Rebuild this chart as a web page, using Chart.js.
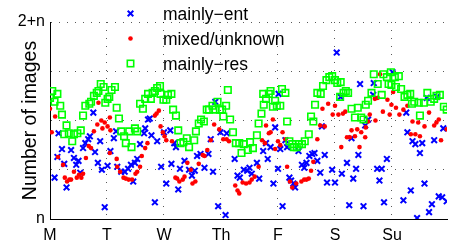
<!DOCTYPE html>
<html><head><meta charset="utf-8">
<script src="https://cdn.jsdelivr.net/npm/chart.js@4.4.1/dist/chart.umd.min.js"></script>
<style>html,body{margin:0;padding:0;background:#fff;overflow:hidden}#wrap{width:463px;height:249px;position:relative}</style>
</head><body><div id="wrap"><canvas id="c" width="463" height="249"></canvas></div>
<script>
const dayTicks = [0, 1, 2, 3, 4, 5, 6];
const dayLabels = ['M', 'T', 'W', 'Th', 'F', 'S', 'Su'];
const yTicks = [0, 0.5, 1, 1.5, 2];
const yTickLabels = ['n', '', '', '', '2+n'];
const seriesNames = ['mainly\u2212ent', 'mixed/unknown', 'mainly\u2212res'];
const yTitle = 'Number of images';

const entX = [0.08,0.13,0.15,0.21,0.25,0.29,0.37,0.42,0.46,0.50,0.53,0.58,0.62,0.67,0.70,0.76,0.79,0.84,0.88,0.91,0.96,1.01,1.06,1.12,1.16,1.18,1.25,1.31,1.37,1.42,1.46,1.49,1.53,1.58,1.65,1.67,1.72,1.75,1.78,1.84,1.88,1.95,2.00,2.04,2.11,2.13,2.18,2.21,2.25,2.28,2.36,2.44,2.49,2.54,2.58,2.64,2.71,2.78,2.82,2.86,2.90,2.95,2.99,3.08,3.10,3.24,3.29,3.33,3.40,3.46,3.50,3.54,3.63,3.67,3.74,3.79,3.82,3.87,3.92,3.95,4.00,4.01,4.04,4.08,4.13,4.16,4.20,4.23,4.27,4.30,4.36,4.42,4.46,4.50,4.55,4.60,4.64,4.69,4.74,4.77,4.82,4.86,4.95,5.00,5.03,5.10,5.12,5.21,5.25,5.29,5.32,5.37,5.41,5.44,5.50,5.53,5.58,5.67,5.68,5.74,5.78,5.82,5.86,5.91,6.01,6.20,6.25,6.27,6.33,6.36,6.41,6.44,6.49,6.53,6.57,6.61,6.65,6.70,6.74,6.79,6.82,6.88,6.90,6.96];
const entY = [0.42,0.63,0.87,0.71,0.56,0.32,0.70,0.62,0.55,0.59,0.47,0.72,0.77,0.81,0.84,1.08,0.68,0.57,0.79,0.50,0.12,0.54,0.69,0.82,0.89,0.53,0.48,0.48,0.51,0.55,0.38,0.57,0.61,0.76,0.87,0.92,1.01,1.02,0.85,0.17,0.79,0.53,0.88,0.36,0.90,0.56,0.77,0.73,0.30,0.51,0.59,0.50,0.44,0.49,0.64,0.66,0.52,0.66,0.81,0.48,1.19,0.13,0.88,0.04,0.87,0.61,0.44,0.42,0.50,0.49,0.52,0.46,0.57,0.41,0.69,0.77,0.61,0.73,0.36,0.93,0.51,1.27,0.71,0.13,0.80,0.73,0.42,0.39,0.36,0.32,0.69,0.55,0.52,0.57,0.64,0.66,0.67,0.59,0.47,0.94,0.65,0.37,0.50,0.37,1.69,1.24,0.46,0.57,0.14,0.82,0.41,0.51,0.65,1.37,0.13,0.95,1.01,1.26,1.38,0.51,0.39,0.51,0.17,0.61,1.49,0.19,1.08,0.88,0.29,0.79,0.76,0.01,0.67,0.77,0.36,1.23,0.07,0.15,0.80,1.24,0.23,0.22,0.92,0.18];

const mixX = [0.00,0.03,0.09,0.14,0.23,0.26,0.30,0.34,0.37,0.42,0.47,0.51,0.55,0.58,0.63,0.68,0.72,0.77,0.83,0.85,0.90,0.92,0.96,1.01,1.05,1.06,1.05,1.17,1.18,1.23,1.29,1.33,1.38,1.44,1.50,1.53,1.58,1.61,1.67,1.71,1.84,1.87,1.91,1.94,1.98,2.01,2.04,2.14,2.20,2.23,2.27,2.33,2.36,2.41,2.47,2.50,2.55,2.61,2.68,2.71,2.76,2.82,2.88,2.97,3.04,3.10,3.14,3.25,3.29,3.32,3.38,3.44,3.50,3.54,3.59,3.66,3.72,3.77,3.79,3.84,3.87,3.91,3.95,4.00,4.04,4.08,4.13,4.16,4.21,4.25,4.32,4.41,4.46,4.50,4.54,4.58,4.62,4.69,4.74,4.78,4.82,4.88,4.96,5.00,5.06,5.11,5.14,5.18,5.21,5.26,5.29,5.35,5.39,5.43,5.46,5.53,5.54,5.58,5.61,5.70,5.71,5.75,5.79,5.84,5.92,5.96,5.99,6.02,6.07,6.13,6.20,6.27,6.33,6.36,6.41,6.46,6.49,6.57,6.65,6.74,6.78,6.82,6.86,6.96];
const mixY = [1.12,0.88,1.04,0.63,0.55,0.42,0.38,0.40,0.40,0.48,0.42,0.45,0.42,0.46,0.62,0.74,0.72,0.89,0.96,1.18,1.00,0.92,0.98,0.94,1.03,0.90,0.67,0.61,0.53,0.48,0.42,0.41,0.40,0.40,0.46,0.48,0.53,0.64,0.72,0.77,1.05,1.07,1.10,0.94,0.88,0.84,0.80,0.79,0.42,0.41,0.38,0.40,0.43,0.57,0.50,0.36,0.38,0.56,0.65,0.64,0.70,0.80,0.96,0.91,0.81,0.81,0.79,0.34,0.29,0.26,0.37,0.36,0.37,0.40,0.43,0.53,0.80,0.77,0.95,0.87,0.88,1.01,0.71,0.79,0.75,0.88,0.81,0.53,0.38,0.32,0.36,0.38,0.40,0.40,0.41,0.49,0.58,0.81,0.95,1.12,0.94,1.17,1.06,1.15,1.06,0.73,1.07,1.09,0.83,0.83,0.90,0.84,0.91,0.73,0.88,0.83,0.93,0.99,1.06,1.22,1.00,1.23,1.47,1.09,1.21,1.06,1.16,1.29,1.13,1.06,1.11,1.15,0.86,0.99,0.86,0.98,0.84,0.94,1.08,0.95,0.98,1.01,0.80,0.91];

const resX = [0.00,0.04,0.08,0.13,0.18,0.21,0.25,0.29,0.33,0.39,0.42,0.48,0.54,0.58,0.62,0.69,0.72,0.77,0.82,0.85,0.89,0.94,0.97,1.01,1.04,1.08,1.14,1.17,1.21,1.25,1.30,1.33,1.39,1.43,1.49,1.53,1.58,1.63,1.67,1.72,1.77,1.80,1.84,1.88,1.93,1.94,1.99,2.04,2.07,2.13,2.16,2.21,2.25,2.29,2.34,2.40,2.44,2.53,2.56,2.61,2.65,2.70,2.75,2.79,2.85,2.90,2.94,2.98,3.02,3.04,3.09,3.12,3.16,3.21,3.26,3.32,3.36,3.40,3.47,3.51,3.56,3.63,3.66,3.71,3.75,3.74,3.79,3.84,3.87,3.91,3.95,3.98,4.04,4.07,4.13,4.16,4.20,4.25,4.28,4.33,4.37,4.42,4.47,4.54,4.58,4.62,4.65,4.69,4.75,4.79,4.85,4.90,4.95,5.00,5.04,5.10,5.09,5.15,5.19,5.23,5.29,5.35,5.40,5.46,5.50,5.54,5.58,5.64,5.68,5.75,5.82,5.85,5.91,5.94,5.98,6.05,6.12,5.99,6.07,6.16,6.22,6.27,6.32,6.35,6.39,6.47,6.49,6.56,6.62,6.68,6.74,6.78,6.84,6.91,6.96];
const resY = [1.23,1.30,1.19,1.27,1.15,1.06,0.86,0.95,0.87,0.79,0.86,0.87,0.90,1.05,1.15,1.17,1.19,1.25,1.28,1.30,1.37,1.34,1.18,1.22,1.24,1.31,1.34,1.13,1.02,0.89,0.84,0.77,0.89,0.73,0.92,0.89,1.17,1.12,1.22,1.27,1.22,1.28,1.30,1.33,1.35,1.27,1.21,1.21,1.26,1.27,1.11,1.05,0.90,0.77,0.78,0.82,0.73,0.80,0.89,0.97,1.01,0.99,1.11,1.11,1.15,1.11,1.19,1.11,1.11,1.04,1.15,1.31,1.01,0.88,0.77,0.77,0.67,0.76,0.70,0.78,0.72,0.85,0.97,1.07,1.16,1.27,1.22,1.27,1.30,1.14,1.20,1.15,1.15,1.32,1.28,0.99,0.79,0.76,0.73,0.73,0.76,0.76,0.79,0.86,1.04,0.99,1.16,1.28,1.27,1.35,1.41,1.44,1.45,1.41,1.38,1.39,1.24,1.28,1.30,1.28,1.12,1.03,1.13,1.03,1.01,1.16,1.20,1.28,1.47,1.37,1.26,1.47,1.44,1.37,1.49,1.44,1.45,1.36,1.34,1.32,1.24,1.26,1.27,1.17,1.19,1.18,1.05,1.18,1.28,1.19,1.22,1.25,1.26,1.14,1.11];

const toPts = (xs, ys) => xs.map((x, i) => ({x: x, y: ys[i]}));
const FONT = '"Liberation Sans", Arial, Helvetica, sans-serif';
const BLUE = '#0000ff', RED = '#ff0000', GREEN = '#00ff00';

const legendPlugin = {
  id: 'matLegend',
  afterDraw(chart) {
    const ctx = chart.ctx;
    ctx.save();
    const mx = 130.5, tx = 163, ys = [13.5, 38.5, 63.5];
    ctx.strokeStyle = BLUE; ctx.lineWidth = 2;
    ctx.beginPath();
    ctx.moveTo(mx - 2.8, ys[0] - 2.8); ctx.lineTo(mx + 2.8, ys[0] + 2.8);
    ctx.moveTo(mx + 2.8, ys[0] - 2.8); ctx.lineTo(mx - 2.8, ys[0] + 2.8);
    ctx.stroke();
    ctx.fillStyle = RED;
    ctx.beginPath(); ctx.arc(mx, ys[1], 2.3, 0, Math.PI * 2); ctx.fill();
    ctx.strokeStyle = GREEN; ctx.lineWidth = 1.6;
    ctx.strokeRect(mx - 3.2, ys[2] - 3.2, 6.4, 6.4);
    ctx.fillStyle = '#000';
    ctx.font = '17.5px ' + FONT;
    ctx.textBaseline = 'alphabetic';
    ctx.textAlign = 'left';
    seriesNames.forEach((n, i) => ctx.fillText(n, tx, ys[i] + 6.5));
    ctx.restore();
  }
};

new Chart(document.getElementById('c'), {
  type: 'scatter',
  data: {
    datasets: [
      {label: seriesNames[0], data: toPts(entX, entY), pointStyle: 'crossRot', pointRadius: 4, borderColor: BLUE, backgroundColor: BLUE, pointBorderWidth: 2, order: 3},
      {label: seriesNames[1], data: toPts(mixX, mixY), pointStyle: 'circle', pointRadius: 2.3, borderColor: RED, backgroundColor: RED, pointBorderWidth: 0, order: 2},
      {label: seriesNames[2], data: toPts(resX, resY), pointStyle: 'rect', pointRadius: 4.6, borderColor: GREEN, backgroundColor: 'rgba(0,0,0,0)', pointBorderWidth: 1.6, order: 1}
    ]
  },
  options: {
    responsive: false,
    animation: false,
    devicePixelRatio: 1,
    layout: {padding: {left: 0, right: 16, top: 22, bottom: 0}},
    plugins: {legend: {display: false}, tooltip: {enabled: false}},
    scales: {
      x: {
        type: 'linear', min: 0, max: 6.965,
        afterBuildTicks: s => { s.ticks = dayTicks.map(v => ({value: v})); },
        afterFit: s => { s.height = 30; },
        ticks: {callback: (v) => { const i = dayTicks.indexOf(v); return i >= 0 ? dayLabels[i] : ''; }, font: {family: FONT, size: 16}, color: '#000', padding: 7, maxRotation: 0, autoSkip: false},
        grid: {color: 'rgba(0,0,0,0.65)', lineWidth: 1, drawTicks: false},
        border: {display: true, color: '#000', width: 1, dash: [1, 7]}
      },
      y: {
        type: 'linear', min: 0, max: 2,
        afterBuildTicks: s => { s.ticks = yTicks.map(v => ({value: v})); },
        afterFit: s => { s.width = 50; },
        ticks: {callback: (v) => { const i = yTicks.indexOf(v); return i >= 0 ? yTickLabels[i] : ''; }, font: {family: FONT, size: 16}, color: '#000', padding: 5, autoSkip: false},
        grid: {color: 'rgba(0,0,0,0.65)', lineWidth: 1, drawTicks: false},
        border: {display: true, color: '#000', width: 1, dash: [1, 7]},
        title: {display: true, text: yTitle, font: {family: FONT, size: 19.5}, color: '#000', padding: {top: 19, bottom: 0}}
      }
    }
  },
  plugins: [legendPlugin]
});
</script>
</body></html>
